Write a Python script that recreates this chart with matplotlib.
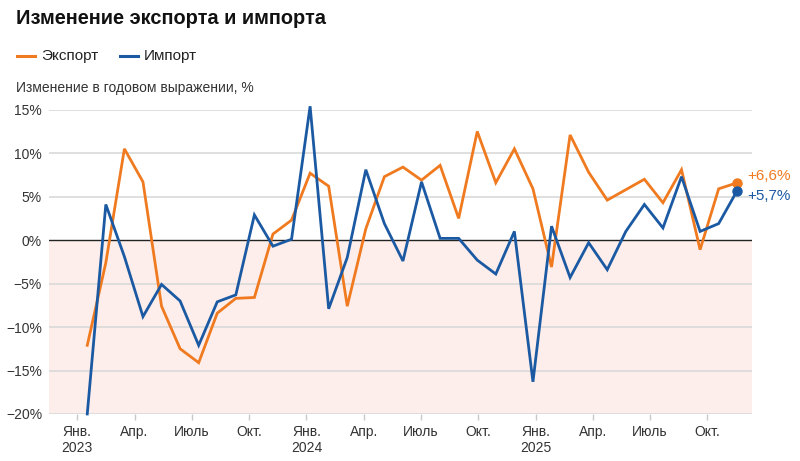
import matplotlib
matplotlib.use("Agg")
import matplotlib.pyplot as plt
from matplotlib.lines import Line2D
import numpy as np

plt.rcParams['font.family'] = ['Liberation Sans', 'DejaVu Sans']

# ---- data (year-on-year change, %), Jan 2023 .. Dec 2025 ----
months = list(range(36))
export_vals = [-12.1, -2.6, 10.5, 6.7, -7.6, -12.5, -14.1, -8.4, -6.7, -6.6, 0.7, 2.3,
               7.7, 6.2, -7.6, 1.3, 7.3, 8.4, 6.9, 8.6, 2.5, 12.5, 6.6, 10.5,
               5.9, -3.1, 12.1, 7.8, 4.6, 5.8, 7.0, 4.3, 8.1, -1.1, 5.9, 6.6]
import_vals = [-20.0, 4.1, -1.9, -8.8, -5.1, -7.0, -12.1, -7.1, -6.3, 2.9, -0.7, 0.1,
               15.4, -7.9, -2.0, 8.1, 1.9, -2.4, 6.7, 0.2, 0.2, -2.3, -3.9, 1.0,
               -16.3, 1.6, -4.3, -0.3, -3.4, 1.0, 4.1, 1.4, 7.3, 1.0, 1.9, 5.7]
xtick_labels = ['Янв.\n2023', 'Апр.', 'Июль', 'Окт.',
                'Янв.\n2024', 'Апр.', 'Июль', 'Окт.',
                'Янв.\n2025', 'Апр.', 'Июль', 'Окт.']
yticks = [15, 10, 5, 0, -5, -10, -15, -20]
export_label = '+6,6%'
import_label = '+5,7%'

ORANGE = '#F07A1F'
BLUE = '#1B5AA3'
PINK = '#FDEEEB'
GRID = '#D9D9D9'
TXT = '#333333'

fig = plt.figure(figsize=(8, 4.61), dpi=100)
ax = fig.add_axes([0.06125, 0.102, 0.8784, 0.660])

ax.set_xlim(-2.06, 35.78)
ax.set_ylim(-20, 15)

ax.axhspan(-20, 0, color=PINK, zorder=0, lw=0)
for v in yticks:
    if v == 0:
        continue
    ax.axhline(v, color=GRID, lw=1.2, zorder=1)
ax.axhline(0, color='#222222', lw=1.0, zorder=2)

ax.plot(months, export_vals, color=ORANGE, lw=2.0, zorder=4, clip_on=False,
        solid_joinstyle='miter')
ax.plot(months, import_vals, color=BLUE, lw=2.0, zorder=5, clip_on=False,
        solid_joinstyle='miter')
ax.plot(months[-1], export_vals[-1], 'o', color=ORANGE, ms=6.5, zorder=6, clip_on=False)
ax.plot(months[-1], import_vals[-1], 'o', color=BLUE, ms=6.5, zorder=6, clip_on=False)

ax.annotate(export_label, (months[-1], export_vals[-1]), xytext=(7, 5),
            textcoords='offset points', color=ORANGE, fontsize=11, va='center',
            ha='left', annotation_clip=False)
ax.annotate(import_label, (months[-1], import_vals[-1]), xytext=(7, -4),
            textcoords='offset points', color=BLUE, fontsize=11, va='center',
            ha='left', annotation_clip=False)

# ticks
tick_pos = [-0.54 + 3.085 * k for k in range(len(xtick_labels))]
ax.set_xticks(tick_pos)
ax.set_xticklabels(xtick_labels, fontsize=10, color=TXT, linespacing=1.15)
ax.tick_params(axis='x', length=4.5, width=1, color='#C8C8C8', pad=3.5)
ax.set_yticks(yticks)
ax.set_yticklabels([f'{v}%'.replace('-', '\u2212') for v in yticks], fontsize=10, color=TXT)
ax.tick_params(axis='y', length=0, pad=5)
for s in ax.spines.values():
    s.set_visible(False)

# title, legend, subtitle
fig.text(0.0196, 0.9588, 'Изменение экспорта и импорта', fontsize=14.4, fontweight='bold',
         color='#111111', va='center', ha='left')
ly = (461 - 56) / 461
fig.add_artist(Line2D([16.7 / 800, 35 / 800], [ly, ly], color=ORANGE, lw=2.2))
fig.text(41 / 800, ly, 'Экспорт', fontsize=11, color='#222222', va='center', ha='left')
fig.add_artist(Line2D([120 / 800, 138.3 / 800], [ly, ly], color=BLUE, lw=2.2))
fig.text(144 / 800, ly, 'Импорт', fontsize=11, color='#222222', va='center', ha='left')
fig.text(0.0196, (461 - 88) / 461, 'Изменение в годовом выражении, %', fontsize=10,
         color=TXT, va='center', ha='left')

fig.savefig('out.png', dpi=100, facecolor='white')
